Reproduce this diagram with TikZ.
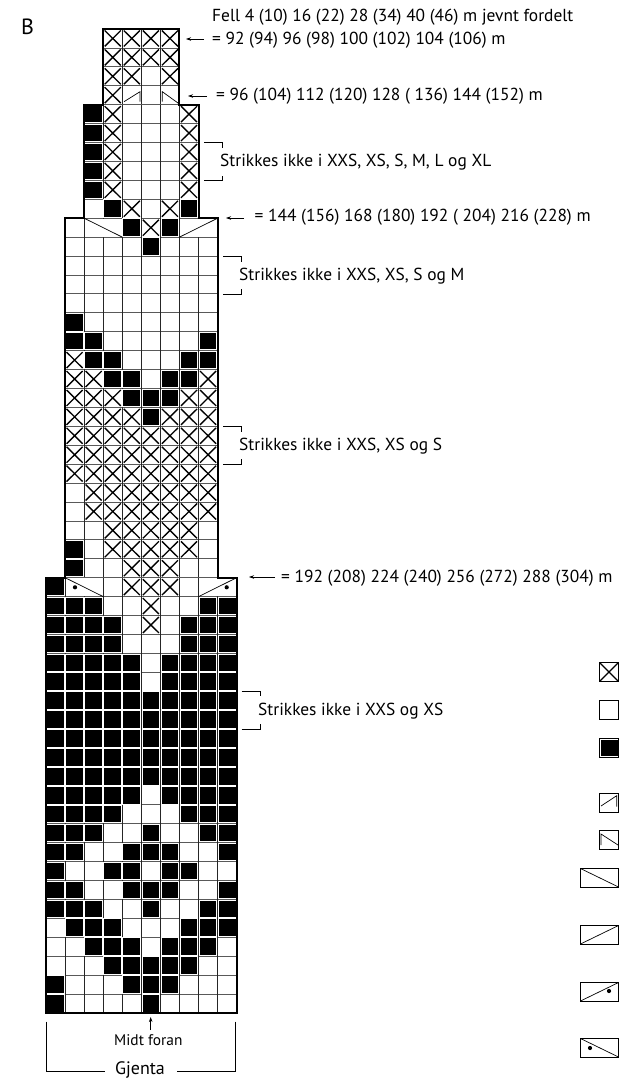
\documentclass[tikz,border=0pt]{standalone}
\usepackage{fontspec}
\setmainfont{PT Sans}
\usetikzlibrary{arrows.meta}
\newcommand{\cx}[1]{46+19.07*(#1)}
\newcommand{\ry}[1]{29+18.92*(#1)}
\tikzset{
  x=1pt,y=-1pt,
  gridh/.style={line width=0.8pt,black!65},
  gridv/.style={line width=0.8pt,black!85},
  outline/.style={line width=2pt,black,line cap=butt,line join=miter},
  thin/.style={line width=0.7pt,black},
  bracket/.style={line width=0.8pt,black},
  arr/.style={line width=0.7pt,-{Stealth[length=5pt,width=3.5pt]}},
  chart/.style={anchor=west,font=\fontsize{17.4}{20}\selectfont,inner sep=0pt,yshift=-1.5pt},
  legendbox/.style={line width=0.9pt,black},
}
\newcommand{\Bk}[2]{\foreach \c in {#2}{%
  \fill[white] ({\cx{\c}+0.2},{\ry{#1}+0.2}) rectangle ({\cx{\c+1}-0.2},{\ry{#1+1}-0.2});
  \fill[black] ({\cx{\c}+1.2},{\ry{#1}+1.2}) rectangle ({\cx{\c+1}-1.2},{\ry{#1+1}-1.2});}}
\newcommand{\Xx}[2]{\foreach \c in {#2}{\draw[line width=1.35pt] ({\cx{\c}+1.5},{\ry{#1}+1.5}) -- ({\cx{\c+1}-1.5},{\ry{#1+1}-1.5}) ({\cx{\c+1}-1.5},{\ry{#1}+1.5}) -- ({\cx{\c}+1.5},{\ry{#1+1}-1.5});}}
\newcommand{\Blk}[4]{%
 \foreach \r in {#1,...,#2}{\draw[gridh] ({\cx{#3}},{\ry{\r}}) -- ({\cx{#4}},{\ry{\r}});}
 \foreach \c in {#3,...,#4}{\draw[gridv] ({\cx{\c}},{\ry{#1}}) -- ({\cx{\c}},{\ry{#2}});}
}
\begin{document}
\begin{tikzpicture}
\useasboundingbox (0,0) rectangle (619,1079);
\fill[white] (0,0) rectangle (619,1079);
% grids
\Blk{0}{4}{3}{7}
\Blk{4}{10}{2}{8}
\Blk{10}{29}{1}{9}
\Blk{29}{52}{0}{10}
% clear merged cells
\fill[white] ({\cx{2}+0.5},{\ry{10}+0.5}) rectangle ({\cx{4}-0.5},{\ry{11}-0.5});
\fill[white] ({\cx{7}+0.5},{\ry{10}+0.5}) rectangle ({\cx{9}-0.5},{\ry{11}-0.5});
\fill[white] ({\cx{1}+0.5},{\ry{29}+0.5}) rectangle ({\cx{3}-0.5},{\ry{30}-0.5});
\fill[white] ({\cx{8}+0.5},{\ry{29}+0.5}) rectangle ({\cx{10}-0.5},{\ry{30}-0.5});
% X cells
\Xx{0}{3,4,5,6}\Xx{1}{3,4,5,6}\Xx{2}{3,4,6}\Xx{3}{3}
\foreach \r in {4,...,8}{\Xx{\r}{3,7}}
\Xx{9}{4,6}\Xx{10}{5}
\Xx{17}{1}\Xx{18}{1,2,8}\Xx{19}{1,2,3,7,8}\Xx{20}{1,2,3,4,6,7,8}
\Xx{21}{1,...,8}\Xx{22}{1,...,8}\Xx{23}{1,...,8}
\Xx{24}{2,...,8}\Xx{25}{2,...,8}
\Xx{26}{3,...,7}\Xx{27}{3,...,7}
\Xx{28}{4,5,6}\Xx{29}{4,5,6}\Xx{30}{5}\Xx{31}{5}
% black cells
\foreach \r in {4,...,8}{\Bk{\r}{2}}
\Bk{9}{3,7}\Bk{10}{4,6}\Bk{11}{5}
\Bk{15}{1}\Bk{16}{1,2,8}\Bk{17}{2,3,7,8}\Bk{18}{3,4,6,7}\Bk{19}{4,5,6}\Bk{20}{5}
\Bk{27}{1}\Bk{28}{1}\Bk{29}{0}
\Bk{30}{0,1,2,8,9}
\Bk{31}{0,1,2,3,7,8,9}\Bk{32}{0,1,2,3,7,8,9}
\Bk{33}{0,1,2,3,4,6,7,8,9}\Bk{34}{0,1,2,3,4,6,7,8,9}
\foreach \r in {35,...,39}{\Bk{\r}{0,...,9}}
\Bk{40}{0,1,2,3,4,6,7,8,9}
\Bk{41}{0,1,2,3,7,8,9}
\Bk{42}{0,1,2,5,8,9}
\Bk{43}{0,1,4,5,6,9}
\Bk{44}{0,3,4,6,7}
\Bk{45}{0,1,4,5,6,9}
\Bk{46}{0,1,2,5,8,9}
\Bk{47}{1,2,3,7,8,9}
\Bk{48}{2,3,4,6,7,8}
\Bk{49}{3,4,5,6,7}
\Bk{50}{0,4,5,6}
\Bk{51}{0,5}
% decrease marks
\draw[thin] (124,101.7) -- (140,91.7) -- (140,101.7);
\draw[thin] (162.3,101.7) -- (162.3,91.7) -- (178,103);
\draw[thin] ({\cx{2}},{\ry{10}}) -- ({\cx{4}},{\ry{11}});
\draw[thin] ({\cx{7}},{\ry{11}}) -- ({\cx{9}},{\ry{10}});
\draw[thin] ({\cx{1}},{\ry{29}}) -- ({\cx{3}},{\ry{30}});
\draw[thin] ({\cx{8}},{\ry{30}}) -- ({\cx{10}},{\ry{29}});
\fill (75,587.3) circle (2.1);
\fill (226.7,587.3) circle (2.1);
% outline
\draw[outline] ({\cx{3}},{\ry{4}}) -- ({\cx{3}},{\ry{0}}) -- ({\cx{7}},{\ry{0}}) -- ({\cx{7}},{\ry{4}})
  -- ({\cx{8}},{\ry{4}}) -- ({\cx{8}},{\ry{10}}) -- ({\cx{9}},{\ry{10}}) -- ({\cx{9}},{\ry{29}})
  -- ({\cx{10}},{\ry{29}}) -- ({\cx{10}},{\ry{52}}) -- ({\cx{0}},{\ry{52}}) -- ({\cx{0}},{\ry{29}})
  -- ({\cx{1}},{\ry{29}}) -- ({\cx{1}},{\ry{10}}) -- ({\cx{2}},{\ry{10}}) -- ({\cx{2}},{\ry{4}}) -- cycle;
% texts
\node[anchor=west,inner sep=0pt,font=\fontsize{22}{24}\selectfont] (lblB) at (21,27) {B};
\node[chart] (t1) at (212,16) {Fell 4 (10) 16 (22) 28 (34) 40 (46) m jevnt fordelt};
\node[chart] (t2) at (212,39) {= 92 (94) 96 (98) 100 (102) 104 (106) m};
\node[chart] (t3) at (216,94.5) {= 96 (104) 112 (120) 128 ( 136) 144 (152) m};
\node[chart] (t4) at (220,161) {Strikkes ikke i XXS, XS, S, M, L og XL};
\node[chart] (t5) at (254.5,216) {= 144 (156) 168 (180) 192 ( 204) 216 (228) m};
\node[chart] (t6) at (239,275) {Strikkes ikke i XXS, XS, S og M};
\node[chart] (t7) at (239,445) {Strikkes ikke i XXS, XS og S};
\node[chart] (t8) at (281,577) {= 192 (208) 224 (240) 256 (272) 288 (304) m};
\node[chart] (t9) at (258,710) {Strikkes ikke i XXS og XS};
\node[anchor=center,inner sep=0pt,font=\fontsize{15.4}{18}\selectfont] (midt) at (148.3,1040) {Midt foran};
\node[anchor=center,inner sep=0pt,font=\fontsize{18}{21}\selectfont] (gjenta) at (140,1070) {Gjenta};
% arrows
\coordinate (a1) at (204,39); \coordinate (a1e) at (186,39);
\draw[arr] (a1) -- (a1e);
\coordinate (a2) at (207,96); \coordinate (a2e) at (188,96);
\draw[arr] (a2) -- (a2e);
\coordinate (a3) at (244,218); \coordinate (a3e) at (226,218);
\draw[arr] (a3) -- (a3e);
\coordinate (a4) at (275,577); \coordinate (a4e) at (249,577);
\draw[arr] (a4) -- (a4e);
\coordinate (a5) at (150.7,1030); \coordinate (a5e) at (150.7,1017);
\draw[arr] (a5) -- (a5e);
% brackets
\draw[bracket] (204,142.5) -- (222.7,142.5) -- (222.7,147.5);
\draw[bracket] (204,180.5) -- (222.7,180.5) -- (222.7,175.5);
\draw[bracket] (223,256.7) -- (241.7,256.7) -- (241.7,261.7);
\draw[bracket] (223,294) -- (241.7,294) -- (241.7,289);
\draw[bracket] (223,426.7) -- (241.7,426.7) -- (241.7,431.7);
\draw[bracket] (223,464.3) -- (241.7,464.3) -- (241.7,459.3);
\draw[bracket] (241.7,691.3) -- (260,691.3) -- (260,696.3);
\draw[bracket] (241.7,729.3) -- (260,729.3) -- (260,724.3);
\draw[bracket] (46.7,1021.7) -- (46.7,1071) -- (105,1071);
\draw[bracket] (235.7,1021.7) -- (235.7,1071) -- (176.7,1071);
% legend
\draw[legendbox] (599.5,662.5) rectangle (618.5,681.5);
\draw[line width=1.35pt] (600,663) -- (618,681) (618,663) -- (600,681);
\draw[legendbox] (599.5,700.5) rectangle (618.5,719);
\draw[legendbox] (599.5,738.5) rectangle (618.5,757);
\fill (600.5,739.5) rectangle (617.5,756);
\draw[legendbox] (599.5,793.5) rectangle (618.5,812);
\draw[thin] (601,806) -- (616.7,795.7) -- (616.7,806.7);
\draw[legendbox] (599.5,830.5) rectangle (618.5,849);
\draw[thin] (601,845) -- (601,834) -- (618,845);
\draw[legendbox] (580.5,868.5) rectangle (618.5,887);
\draw[thin] (580.5,868.5) -- (618.5,887);
\draw[legendbox] (580.5,925.5) rectangle (618.5,944);
\draw[thin] (580.5,944) -- (618.5,925.5);
\draw[legendbox] (580.5,982.5) rectangle (618.5,1001);
\draw[thin] (580.5,1001) -- (618.5,982.5);
\fill (609,991) circle (2.1);
\draw[legendbox] (580.5,1038.5) rectangle (618.5,1057);
\draw[thin] (580.5,1038.5) -- (618.5,1057);
\fill (590,1048) circle (2.1);
\end{tikzpicture}
\end{document}
